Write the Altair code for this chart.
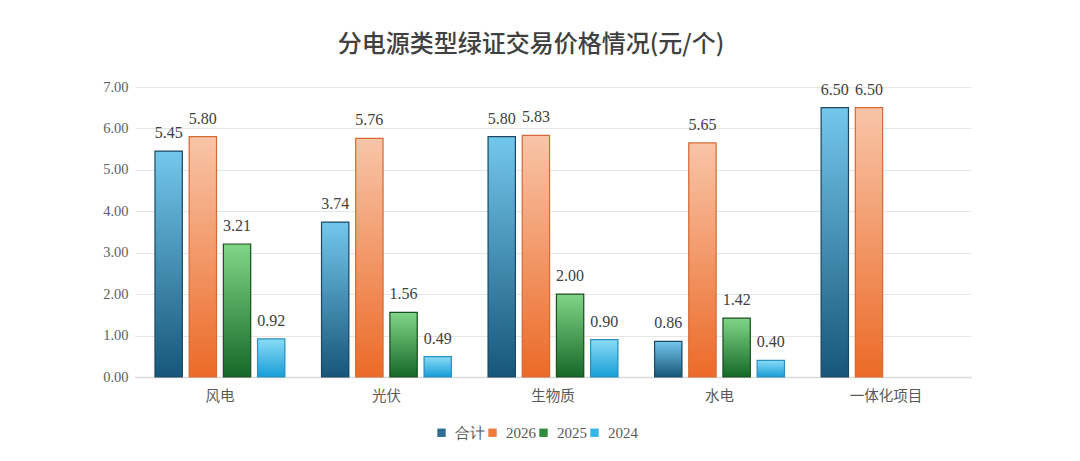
import altair as alt
import pandas as pd

categories = ["风电", "光伏", "生物质", "水电", "一体化项目"]
series_names = ["合计", "2026", "2025", "2024"]
total = [5.45, 3.74, 5.80, 0.86, 6.50]
y2026 = [5.80, 5.76, 5.83, 5.65, 6.50]
y2025 = [3.21, 1.56, 2.00, 1.42, None]
y2024 = [0.92, 0.49, 0.90, 0.40, None]
y_ticks = [0, 1, 2, 3, 4, 5, 6, 7]

legend_colors = ["#2f6f95", "#ee7a3c", "#2f8a3c", "#35b4e6"]
grad_top = ["#74c7ec", "#f8c5a8", "#82d587", "#8adcf6"]
grad_bottom = ["#17567a", "#ec6a28", "#166828", "#179dd6"]
strokes = ["#1c4862", "#d66a34", "#1b4f22", "#2b8fbf"]

rows = []
for s, vals in zip(series_names, [total, y2026, y2025, y2024]):
    for c, v in zip(categories, vals):
        if v is not None:
            rows.append({"cat": c, "series": s, "value": v})
df = pd.DataFrame(rows)

SERIF = "Liberation Serif"
CJK = "Noto Sans CJK SC"

x_enc = alt.X(
    "cat:N", sort=categories,
    scale=alt.Scale(domain=categories, paddingInner=0.22, paddingOuter=0.12),
    axis=alt.Axis(title=None, labelAngle=0, ticks=False, domainColor="#d9d9d9",
                  domainWidth=1.5, labelFont=CJK, labelFontSize=14.5,
                  labelColor="#595959", labelPadding=12, grid=False),
)
xo_enc = alt.XOffset(
    "series:N", sort=series_names,
    scale=alt.Scale(domain=series_names, paddingInner=0.2, paddingOuter=0),
)
y_enc = alt.Y(
    "value:Q", scale=alt.Scale(domain=[0, 7]),
    axis=alt.Axis(title=None, values=y_ticks, format=".2f", ticks=False, domain=False,
                  gridColor="#e6e6e6", labelFont=SERIF, labelFontSize=14.5,
                  labelColor="#606060", labelPadding=7),
)

base = alt.Chart(df)

legend_layer = base.mark_bar().encode(
    x=x_enc, xOffset=xo_enc, y=y_enc,
    color=alt.Color(
        "series:N", sort=series_names,
        scale=alt.Scale(domain=series_names, range=legend_colors),
        legend=alt.Legend(
            title=None, orient="none", direction="horizontal",
            legendX=299, legendY=338, symbolType="square", symbolSize=70,
            labelFont=SERIF, labelFontSize=15, labelColor="#595959",
            labelOffset=6, columnPadding=0, padding=0,
        ),
    ),
)

layers = [legend_layer]
for i, s in enumerate(series_names):
    grad = alt.Gradient(
        gradient="linear",
        stops=[alt.GradientStop(color=grad_top[i], offset=0),
               alt.GradientStop(color=grad_bottom[i], offset=1)],
        x1=0, x2=0, y1=0, y2=1,
    )
    layers.append(
        base.transform_filter(alt.datum.series == s)
        .mark_bar(fill=grad, stroke=strokes[i], strokeWidth=1.2)
        .encode(x=x_enc, xOffset=xo_enc, y=y_enc)
    )

text_layer = base.mark_text(
    baseline="alphabetic", dy=-13, font=SERIF, fontSize=16, color="#404040"
).encode(
    x=x_enc, xOffset=xo_enc, y=y_enc,
    text=alt.Text("value:Q", format=".2f"),
)
layers.append(text_layer)

chart = alt.layer(*layers).properties(
    width=836, height=290,
    autosize=alt.AutoSizeParams(type="none"),
    padding={"left": 127, "top": 79, "right": 100, "bottom": 70},
    title=alt.TitleParams(
        "分电源类型绿证交易价格情况(元/个)", font=CJK, fontSize=24, fontWeight=500,
        color="#404040", anchor="middle", offset=22, dx=-22,
    ),
    background="white",
).configure_view(stroke=None)

chart.save("out.html", embed_options={"renderer": "svg", "actions": False})
